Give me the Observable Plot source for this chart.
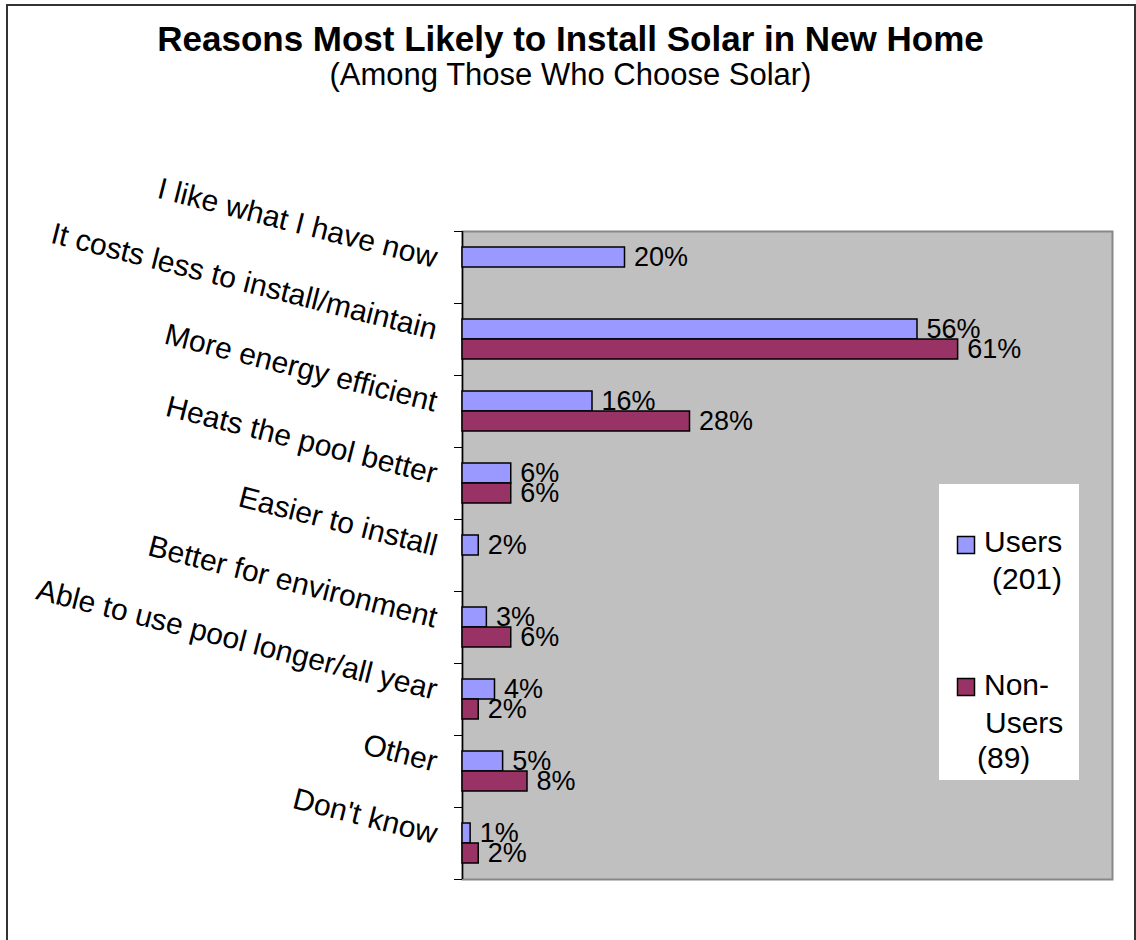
<!DOCTYPE html>
<html>
<head>
<meta charset="utf-8">
<script src="https://cdn.jsdelivr.net/npm/d3@7"></script>
<script src="https://cdn.jsdelivr.net/npm/@observablehq/plot@0.6"></script>
<style>
html, body { margin: 0; padding: 0; background: #fff; }
#wrap { position: relative; width: 1136px; height: 940px; overflow: hidden; font-family: "Liberation Sans", Arial, sans-serif; color: #000; }
#border { position: absolute; left: 6px; top: 4px; width: 1130px; height: 1000px; border: 2px solid #333; box-sizing: border-box; }
#title { position: absolute; left: 6px; width: 1129px; top: 21px; text-align: center; font-weight: bold; font-size: 35px; line-height: 35px; white-space: nowrap; }
#subtitle { position: absolute; left: 6px; width: 1129px; top: 59px; text-align: center; font-size: 31px; line-height: 31px; white-space: nowrap; }
#chart { position: absolute; left: 0; top: 0; }
#legend { position: absolute; left: 939px; top: 484px; }
</style>
</head>
<body>
<div id="wrap">
  <div id="border"></div>
  <div id="chart"></div>
  <div id="title">Reasons Most Likely to Install Solar in New Home</div>
  <div id="subtitle">(Among Those Who Choose Solar)</div>
  <div id="legend"></div>
</div>
<script>
// ---- data ----
const reasons = [
  "I like what I have now",
  "It costs less to install/maintain",
  "More energy efficient",
  "Heats the pool better",
  "Easier to install",
  "Better for environment",
  "Able to use pool longer/all year",
  "Other",
  "Don't know"
];
const usersPct    = [20, 56, 16, 6, 2, 3, 4, 5, 1];
const nonUsersPct = [null, 61, 28, 6, null, 6, 2, 8, 2];
const seriesNames = ["Users", "Non-Users"];
const seriesCounts = [201, 89];
const seriesColors = ["#9999FF", "#993366"];

// ---- build table ----
const rows = [];
reasons.forEach((r, i) => {
  if (usersPct[i] != null) rows.push({reason: r, series: seriesNames[0], value: usersPct[i] / 100});
  if (nonUsersPct[i] != null) rows.push({reason: r, series: seriesNames[1], value: nonUsersPct[i] / 100});
});

const font = "Liberation Sans, Arial, sans-serif";

const chart = Plot.plot({
  width: 1136,
  height: 940,
  marginTop: 231,
  marginBottom: 61,
  marginLeft: 462,
  marginRight: 24,
  style: {fontFamily: font, background: "transparent", overflow: "visible", color: "black"},
  x: {domain: [0, 0.8], axis: null},
  y: {domain: seriesNames, paddingInner: 0, paddingOuter: 0.756, axis: null},
  fy: {domain: reasons, padding: 0},
  color: {domain: seriesNames, range: seriesColors},
  marks: [
    Plot.frame({facet: "super", fill: "#C0C0C0", stroke: "#888888", strokeWidth: 2}),
    Plot.ruleX([0], {stroke: "black", strokeWidth: 1.5}),
    Plot.axisFy({anchor: "left", tickSize: 8, tickFormat: () => "", label: null, dy: -36, stroke: "black"}),
    Plot.axisFy({anchor: "left", ticks: [reasons[reasons.length - 1]], tickSize: 8, tickFormat: () => "", label: null, dy: 36, stroke: "black"}),
    Plot.barX(rows, {fy: "reason", y: "series", x: "value", fill: "series", stroke: "black", strokeWidth: 1.5}),
    Plot.text(rows, {fy: "reason", y: "series", x: "value", text: d => Math.round(d.value * 100) + "%", textAnchor: "start", dx: 9, fontSize: 27, fill: "black"}),
    Plot.text(reasons, {fy: d => d, text: d => d, frameAnchor: "left", dx: -26, dy: -9, rotate: 14.2, textAnchor: "end", fontSize: 30, fill: "black"})
  ]
});
document.getElementById("chart").appendChild(chart);

// ---- legend ----
const legendLines = [
  [{t: seriesNames[0], x: 45, y: 68}, {t: "(" + seriesCounts[0] + ")", x: 53, y: 105}],
  [{t: "Non-", x: 45, y: 211}, {t: "Users", x: 46, y: 249}, {t: "(" + seriesCounts[1] + ")", x: 38, y: 284}]
];
const swatchY = [52, 194];
const ns = "http://www.w3.org/2000/svg";
const lsvg = document.createElementNS(ns, "svg");
lsvg.setAttribute("width", 140);
lsvg.setAttribute("height", 296);
lsvg.setAttribute("font-family", font);
lsvg.setAttribute("font-size", 30);
const bg = document.createElementNS(ns, "rect");
bg.setAttribute("width", 140); bg.setAttribute("height", 296); bg.setAttribute("fill", "white");
lsvg.appendChild(bg);
seriesNames.forEach((s, i) => {
  const r = document.createElementNS(ns, "rect");
  r.setAttribute("x", 18.5); r.setAttribute("y", swatchY[i] + 0.5);
  r.setAttribute("width", 17); r.setAttribute("height", 17);
  r.setAttribute("fill", seriesColors[i]); r.setAttribute("stroke", "black"); r.setAttribute("stroke-width", 1.5);
  lsvg.appendChild(r);
  legendLines[i].forEach(l => {
    const t = document.createElementNS(ns, "text");
    t.setAttribute("x", l.x); t.setAttribute("y", l.y);
    t.textContent = l.t;
    lsvg.appendChild(t);
  });
});
document.getElementById("legend").appendChild(lsvg);
</script>
</body>
</html>
